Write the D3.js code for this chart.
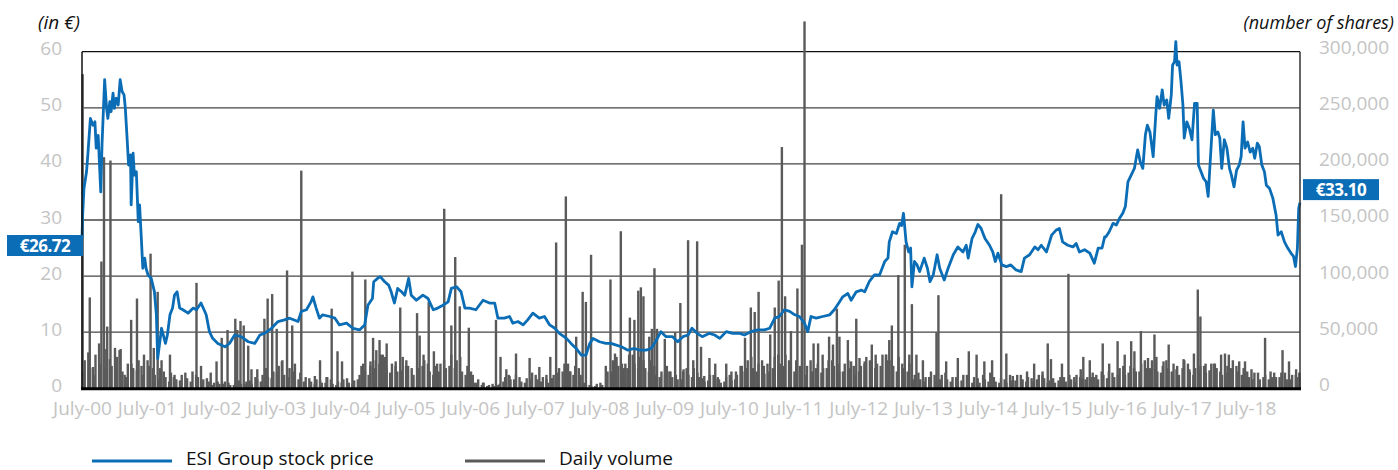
<!DOCTYPE html>
<html>
<head>
<meta charset="utf-8">
<script src="https://d3js.org/d3.v7.min.js"></script>
<style>
  body { margin: 0; background: #fff; }
  svg text { font-family: "Open Sans", sans-serif; }
</style>
</head>
<body>
<svg id="chart" width="1398" height="470"></svg>
<script>
/** Price series (decimal year, euros) **/
var priceT = [2000.50,2000.51,2000.53,2000.57,2000.59,2000.63,2000.67,2000.70,2000.72,2000.75,2000.79,2000.81,2000.85,2000.88,2000.90,2000.93,2000.95,2000.98,2001.00,2001.03,2001.06,2001.09,2001.12,2001.15,2001.17,2001.20,2001.22,2001.25,2001.26,2001.29,2001.31,2001.34,2001.37,2001.39,2001.42,2001.44,2001.47,2001.49,2001.52,2001.57,2001.62,2001.65,2001.67,2001.73,2001.79,2001.82,2001.86,2001.90,2001.93,2001.97,
  2002.01,2002.06,2002.14,2002.22,2002.27,2002.34,2002.42,2002.47,2002.52,2002.60,2002.71,2002.78,2002.86,2002.96,2003.07,2003.17,2003.25,2003.32,2003.43,2003.53,2003.63,2003.71,2003.84,2003.89,2003.97,2004.04,2004.07,2004.12,2004.17,2004.22,2004.33,2004.41,2004.48,2004.59,2004.69,2004.79,2004.87,2004.92,2004.99,2005.01,2005.07,2005.11,2005.18,2005.24,2005.28,2005.33,2005.38,2005.44,2005.49,2005.55,2005.59,2005.67,2005.77,2005.85,2005.93,
  2006.00,2006.08,2006.16,2006.21,2006.29,2006.36,2006.42,2006.49,2006.59,2006.70,2006.80,2006.88,2006.93,2007.03,2007.11,2007.16,2007.24,2007.32,2007.39,2007.47,2007.57,2007.65,2007.73,2007.81,2007.88,2007.99,2008.06,2008.14,2008.22,2008.29,2008.35,2008.40,2008.50,2008.60,2008.68,2008.76,2008.84,2008.94,2009.04,2009.12,2009.22,2009.30,2009.38,2009.45,2009.53,2009.63,2009.71,2009.79,2009.87,2009.93,
  2010.01,2010.09,2010.20,2010.28,2010.36,2010.46,2010.56,2010.67,2010.74,2010.84,2010.95,2011.05,2011.13,2011.21,2011.28,2011.36,2011.44,2011.52,2011.59,2011.67,2011.72,2011.77,2011.85,2011.95,2012.06,2012.13,2012.21,2012.26,2012.34,2012.39,2012.47,2012.55,2012.60,2012.67,2012.75,2012.83,2012.91,2012.96,2012.98,2013.03,2013.09,2013.14,2013.17,2013.20,2013.24,2013.28,2013.31,2013.33,2013.37,2013.41,2013.45,2013.52,2013.57,2013.61,2013.66,2013.72,2013.76,2013.83,2013.89,2013.97,
  2014.04,2014.12,2014.17,2014.20,2014.26,2014.31,2014.35,2014.40,2014.46,2014.53,2014.58,2014.62,2014.66,2014.72,2014.79,2014.86,2014.94,2015.02,2015.07,2015.15,2015.23,2015.28,2015.33,2015.41,2015.49,2015.56,2015.61,2015.66,2015.74,2015.82,2015.87,2015.92,2016.00,2016.08,2016.15,2016.21,2016.27,2016.31,2016.33,2016.38,2016.44,2016.49,2016.54,2016.59,2016.63,2016.67,2016.72,2016.77,2016.82,2016.86,2016.90,2016.94,2016.97,
  2017.01,2017.06,2017.10,2017.12,2017.16,2017.20,2017.23,2017.27,2017.30,2017.34,2017.36,2017.39,2017.41,2017.43,2017.46,2017.49,2017.52,2017.54,2017.58,2017.62,2017.66,2017.70,2017.74,2017.76,2017.80,2017.84,2017.88,2017.91,2017.96,2017.99,2018.02,2018.06,2018.09,2018.12,2018.16,2018.20,2018.24,2018.27,2018.31,2018.35,2018.39,2018.42,2018.45,2018.48,2018.52,2018.56,2018.60,2018.63,2018.67,2018.70,2018.74,2018.78,2018.81,2018.86,2018.91,2018.96,2018.99,2019.04,2019.09,2019.14,2019.19,2019.23,2019.26,2019.29,2019.31,2019.33];
var priceV = [26.7,30.9,35.6,38.6,41.6,48.1,46.9,47.5,42.8,45.1,35.0,43.6,55.0,49.9,48.1,51.1,49.3,52.6,49.9,51.7,50.5,55.0,52.9,52.3,49.9,44.0,39.8,41.6,32.7,41.9,38.0,38.6,29.7,32.7,26.1,21.4,23.2,21.4,20.2,19.6,17.2,13.1,5.3,10.7,8.0,9.5,13.1,14.3,16.6,17.2,
  14.3,14.0,13.4,14.3,14.0,15.2,13.1,10.1,8.9,8.0,7.4,8.0,9.5,9.2,8.3,8.0,9.5,9.8,10.7,11.9,12.2,12.5,11.9,13.7,14.0,15.4,16.3,14.3,12.5,13.1,12.8,12.5,11.3,11.6,10.7,10.4,11.3,14.8,16.0,19.0,19.6,19.9,19.0,18.4,17.2,15.2,17.8,17.2,16.6,19.6,16.6,15.7,16.6,16.0,14.0,
  14.3,14.8,15.4,17.8,18.1,17.2,14.3,14.3,14.0,15.7,15.2,15.2,12.5,12.5,12.8,11.6,11.9,11.3,12.2,13.4,12.5,12.8,11.3,10.7,9.8,8.9,8.0,7.1,5.9,5.9,8.0,8.9,8.3,8.0,8.0,7.7,7.4,6.8,7.1,6.8,6.8,7.1,8.6,10.1,9.2,9.2,8.3,9.2,9.5,10.7,
  9.8,9.2,9.8,9.5,8.9,10.1,9.8,9.8,9.5,10.1,10.4,10.4,10.7,12.5,12.8,14.0,13.7,13.1,12.8,11.6,10.1,12.8,12.5,12.8,13.1,14.0,15.4,16.3,16.9,15.7,17.2,17.5,17.2,19.0,20.2,20.2,22.6,23.2,26.1,27.9,27.6,29.4,29.0,31.2,26.1,24.3,25.0,18.1,22.6,22.0,20.8,23.2,21.4,19.0,20.2,23.8,21.4,19.3,21.4,23.8,
  25.2,24.3,25.5,23.2,26.7,27.9,29.2,28.5,26.7,25.5,24.3,22.6,24.1,22.0,21.7,22.0,21.1,20.8,23.2,23.8,25.2,24.7,25.5,24.3,27.3,28.2,28.5,26.1,25.5,25.2,25.8,24.3,24.7,24.1,22.3,25.0,25.0,27.0,27.0,27.9,29.4,29.1,30.3,31.2,32.4,36.8,38.0,39.2,42.5,40.4,39.2,45.2,46.9,
  45.7,41.3,48.7,52.0,49.9,53.2,50.5,51.4,48.1,52.3,57.6,58.2,61.8,57.6,58.2,54.7,50.5,44.6,47.5,46.3,44.3,50.8,50.8,39.8,38.6,37.4,36.8,34.2,43.9,49.6,45.2,45.7,44.6,39.2,44.3,42.8,39.2,38.0,35.9,38.9,39.8,41.3,47.5,42.8,43.9,42.1,42.8,41.0,43.7,43.1,39.8,38.6,36.2,35.6,33.9,30.9,27.3,27.9,26.1,25.0,24.1,23.5,21.7,25.0,32.1,33.1];

/** Daily volume: notable sessions (decimal year, shares) **/
var volT = [2000.51,2000.62,2000.67,2000.80,2000.84,2000.89,2000.94,2001.01,2001.08,2001.16,2001.26,2001.35,2001.42,2001.56,2001.61,2001.67,2001.73,2001.86,2001.92,2002.27,2002.34,2002.49,2002.58,2002.66,2002.75,2002.87,2002.90,2002.95,2003.00,2003.07,2003.12,2003.21,2003.32,2003.37,2003.44,2003.51,2003.59,
  2003.67,2003.75,2003.89,2004.10,2004.18,2004.28,2004.36,2004.45,2004.52,2004.68,2004.82,2004.88,2004.96,2005.00,2005.05,2005.10,2005.15,2005.21,2005.35,2005.42,2005.51,2005.68,2005.72,2005.78,2005.86,2005.94,2005.99,2006.10,2006.21,2006.27,2006.34,2006.48,2006.57,2006.70,
  2006.90,2006.97,2007.06,2007.11,2007.21,2007.42,2007.57,2007.68,2007.74,2007.83,2007.98,2008.05,2008.14,2008.24,2008.29,2008.37,2008.53,2008.67,2008.74,2008.83,2008.90,2008.97,2009.04,2009.10,2009.14,2009.18,2009.27,2009.31,2009.35,2009.39,2009.51,2009.58,2009.67,2009.75,2009.80,2009.87,2009.95,
  2010.01,2010.07,2010.12,2010.20,2010.29,2010.33,2010.46,2010.54,2010.61,2010.70,2010.75,2010.84,2010.90,2010.96,2011.05,2011.14,2011.21,2011.27,2011.32,2011.37,2011.46,2011.56,2011.63,2011.67,2011.81,2011.88,2011.95,2012.05,2012.11,2012.17,2012.21,2012.34,2012.39,2012.47,2012.52,2012.60,2012.71,2012.77,2012.93,2012.98,2013.02,2013.12,
  2013.22,2013.29,2013.33,2013.40,2013.50,2013.60,2013.71,2013.74,2013.86,2014.04,2014.21,2014.33,2014.45,2014.57,2014.71,2014.79,2014.89,2015.11,2015.22,2015.35,2015.43,2015.48,2015.65,2015.75,2015.84,2015.94,2015.98,2016.08,2016.15,2016.28,
  2016.38,2016.51,2016.62,2016.72,2016.77,2016.87,2016.98,2017.08,2017.11,2017.22,2017.30,2017.42,2017.53,2017.62,2017.69,2017.75,2017.79,2017.87,2018.00,2018.11,2018.17,2018.23,2018.39,2018.48,2018.58,2018.69,2018.79,2018.90,2019.06,2019.16,2019.27,2019.32];
var volV = [280000,81000,19000,113000,206000,55000,203000,36000,34000,12000,61000,80000,20000,120000,36000,86000,25000,30000,10000,94000,20000,14000,24000,45000,52000,62000,52000,60000,56000,38000,17000,17000,62000,80000,84000,53000,24000,
  105000,56000,194000,11000,25000,10000,71000,33000,24000,104000,20000,97000,24000,45000,34000,43000,30000,40000,24000,72000,20000,67000,47000,30000,77000,33000,22000,160000,56000,117000,73000,54000,5000,5000,
  61000,28000,17000,11000,31000,27000,19000,12000,28000,130000,171000,15000,46000,86000,77000,119000,3000,97000,31000,140000,22000,63000,61000,87000,90000,82000,46000,53000,107000,53000,44000,15000,50000,76000,17000,132000,25000,
  131000,37000,11000,27000,22000,10000,22000,15000,15000,20000,45000,72000,68000,86000,13000,48000,72000,96000,215000,82000,51000,89000,128000,327000,40000,40000,30000,46000,39000,71000,46000,43000,24000,62000,27000,24000,39000,30000,30000,43000,56000,101000,
  128000,30000,75000,30000,25000,10000,50000,83000,24000,27000,33000,30000,24000,25000,173000,31000,11000,15000,22000,15000,40000,26000,22000,102000,10000,17000,28000,25000,10000,40000,
  22000,42000,30000,42000,33000,51000,27000,48000,28000,24000,39000,17000,26000,17000,31000,88000,64000,22000,22000,30000,31000,30000,24000,24000,17000,5000,45000,10000,34000,24000,17000,14000];

/** Daily volume: typical sessions per month from July 2000 (thousand shares), mid-month and early-month **/
var baseVolK = [25,18,30,22,35,20,
  28,15,22,18,25,30,20,12,18,10,14,8,
  12,9,15,10,8,6,5,4,6,3,5,4,
  6,4,8,12,10,15,20,12,18,22,14,10,
  6,8,5,10,4,6,8,5,7,12,15,20,
  25,30,18,22,15,28,20,12,18,25,15,20,
  22,18,30,25,15,20,12,8,5,3,2,4,
  10,8,12,6,9,14,8,10,5,12,18,22,
  15,20,12,3,2,4,3,15,25,20,18,30,
  22,28,18,25,12,15,20,10,8,15,12,18,
  10,6,12,8,5,10,7,12,15,25,18,22,
  20,15,28,22,30,18,25,12,20,15,22,18,
  25,20,15,22,18,12,20,28,15,22,30,25,
  20,28,18,22,12,8,10,15,6,12,8,10,
  6,12,8,10,5,8,14,6,9,5,7,12,
  8,10,6,12,9,7,5,10,6,8,12,9,
  10,14,8,12,15,10,18,12,20,15,22,18,
  25,15,20,18,22,12,25,15,18,20,14,22,
  18,12,20,25,15,18,10,14,8,12,15,10,
  14,8,12,10];
var earlyVolK = [15,32,12,40,18,26,
  14,35,10,22,16,12,25,18,8,15,6,12,
  7,14,6,12,5,9,3,6,4,5,3,7,
  4,7,10,6,18,9,14,25,10,15,8,6,
  9,4,7,5,8,3,5,9,4,8,22,12,
  18,22,28,14,20,16,25,18,10,20,22,12,
  15,25,20,18,28,12,15,5,3,2,4,3,
  6,12,8,10,5,8,12,6,8,9,14,15,
  22,12,18,5,3,2,5,20,15,28,22,18,
  30,18,25,15,20,10,12,15,12,8,18,10,
  14,9,7,12,8,6,12,8,20,18,28,15,
  25,22,18,30,20,25,15,20,12,25,18,14,
  18,25,22,15,25,20,15,22,25,18,20,30,
  25,15,22,15,8,14,6,10,12,8,14,6,
  10,7,12,5,9,12,6,10,5,8,12,7,
  12,6,9,8,12,5,9,7,10,12,6,10,
  8,10,12,15,9,14,12,20,14,18,15,25,
  18,22,14,25,15,20,18,22,12,15,20,16,
  22,15,14,18,20,12,15,8,14,10,8,14,
  10,14,8,12];

var xLabels = ["July-00","July-01","July-02","July-03","July-04","July-05","July-06","July-07","July-08","July-09",
  "July-10","July-11","July-12","July-13","July-14","July-15","July-16","July-17","July-18"];
var leftTicks = [0, 10, 20, 30, 40, 50, 60];
var rightTicks = [0, 50000, 100000, 150000, 200000, 250000, 300000];
var firstPrice = "€26.72", lastPrice = "€33.10";

var BLUE = "#0b6db5", GREY = "#5a5a5a", LABEL = "#c4c4c4";
var plotLeft = 82, plotRight = 1300, plotTop = 51.7, plotBottom = 388.3;

var svg = d3.select("#chart");

/** Scales **/
var x = d3.scaleLinear().domain([2000.5, 2019.33]).range([plotLeft, plotRight]);
var yL = d3.scaleLinear().domain([0, 60]).range([plotBottom, plotTop]);
var yR = d3.scaleLinear().domain([0, 300000]).range([plotBottom, plotTop]);

/** Gridlines **/
svg.append("g").selectAll("line")
    .data(leftTicks.slice(1))
    .enter().append("line")
    .attr("x1", plotLeft).attr("x2", plotRight)
    .attr("y1", function(d){ return yL(d); })
    .attr("y2", function(d){ return yL(d); })
    .attr("stroke", function(d){ return d === 60 ? "#111" : "#444"; })
    .attr("stroke-width", 1.3);

/** Volume bars **/
var bars = [];
baseVolK.forEach(function(k, i){ bars.push({t: 2000.5 + (i + 0.5) / 12, v: k * 1000}); });
earlyVolK.forEach(function(k, i){ bars.push({t: 2000.5 + (i + 0.17) / 12, v: k * 1000}); });
volT.forEach(function(t, i){ bars.push({t: t, v: volV[i]}); });
svg.append("g").selectAll("rect")
    .data(bars)
    .enter().append("rect")
    .attr("x", function(d){ return x(d.t) - 1.2; })
    .attr("width", 2.4)
    .attr("y", function(d){ return yR(d.v); })
    .attr("height", function(d){ return yR(0) - yR(d.v); })
    .attr("fill", GREY);

/** Price line **/
var priceData = priceT.map(function(t, i){ return {t: t, v: priceV[i]}; });
var line = d3.line()
    .x(function(d){ return x(d.t); })
    .y(function(d){ return yL(d.v); });
svg.append("path")
    .datum(priceData)
    .attr("fill", "none")
    .attr("stroke", BLUE)
    .attr("stroke-width", 2.8)
    .attr("stroke-linejoin", "round")
    .attr("d", line);

/** Frame **/
svg.append("line").attr("x1", plotLeft).attr("x2", plotLeft).attr("y1", plotTop).attr("y2", plotBottom)
    .attr("stroke", "#111").attr("stroke-width", 1.5);
svg.append("line").attr("x1", plotRight).attr("x2", plotRight).attr("y1", plotTop).attr("y2", plotBottom)
    .attr("stroke", "#333").attr("stroke-width", 1.5);
svg.append("line").attr("x1", plotLeft - 1).attr("x2", plotRight + 1).attr("y1", plotBottom + 0.5).attr("y2", plotBottom + 0.5)
    .attr("stroke", "#000").attr("stroke-width", 3);

/** Axes **/
function styleAxis(g){
    g.select(".domain").remove();
    g.selectAll("text").attr("fill", LABEL).style("font-size", "19px").style("font-family", "'Open Sans', sans-serif");
}
svg.append("g")
    .attr("transform", "translate(" + plotLeft + ",0)")
    .call(d3.axisLeft(yL).tickValues(leftTicks).tickSize(0).tickPadding(20))
    .call(styleAxis)
    .selectAll("text").attr("dy", "0.16em");
svg.append("g")
    .attr("transform", "translate(" + plotRight + ",0)")
    .call(d3.axisRight(yR).tickValues(rightTicks).tickSize(0).tickPadding(19)
        .tickFormat(d3.format(",")))
    .call(styleAxis)
    .selectAll("text").attr("dy", "0.1em");
svg.append("g")
    .attr("transform", "translate(0," + plotBottom + ")")
    .call(d3.axisBottom(x).tickValues(d3.range(xLabels.length).map(function(k){ return 2000.5 + k; }))
        .tickFormat(function(d, i){ return xLabels[i]; }).tickSize(0).tickPadding(13))
    .call(styleAxis);

/** Axis titles **/
svg.append("text").text("(in €)")
    .attr("x", 38).attr("y", 29)
    .style("font-style", "italic").style("font-size", "19px").attr("fill", "#111");
svg.append("text").text("(number of shares)")
    .attr("x", 1394).attr("y", 29).attr("text-anchor", "end")
    .style("font-style", "italic").style("font-size", "18px").attr("fill", "#111");

/** Price tags **/
function priceTag(bx, cy, label){
    svg.append("rect").attr("x", bx).attr("y", cy - 10.5).attr("width", 76).attr("height", 21).attr("fill", BLUE);
    svg.append("text").text(label)
        .attr("x", bx + 38).attr("y", cy + 6).attr("text-anchor", "middle")
        .attr("fill", "#fff").style("font-size", "17px").style("font-weight", "bold").style("letter-spacing", "-0.5px");
}
priceTag(7, yL(priceV[0]) + 7, firstPrice);
priceTag(1303, yL(priceV[priceV.length - 1]) - 13, lastPrice);

/** Legend **/
var legend = [{name: "ESI Group stock price", color: BLUE, x: 92}, {name: "Daily volume", color: GREY, x: 465}];
legend.forEach(function(d){
    svg.append("line").attr("x1", d.x).attr("x2", d.x + 80).attr("y1", 461).attr("y2", 461)
        .attr("stroke", d.color).attr("stroke-width", 3);
    svg.append("text").text(d.name).attr("x", d.x + 94).attr("y", 465)
        .style("font-size", "19px").attr("fill", "#111");
});
</script>
</body>
</html>
